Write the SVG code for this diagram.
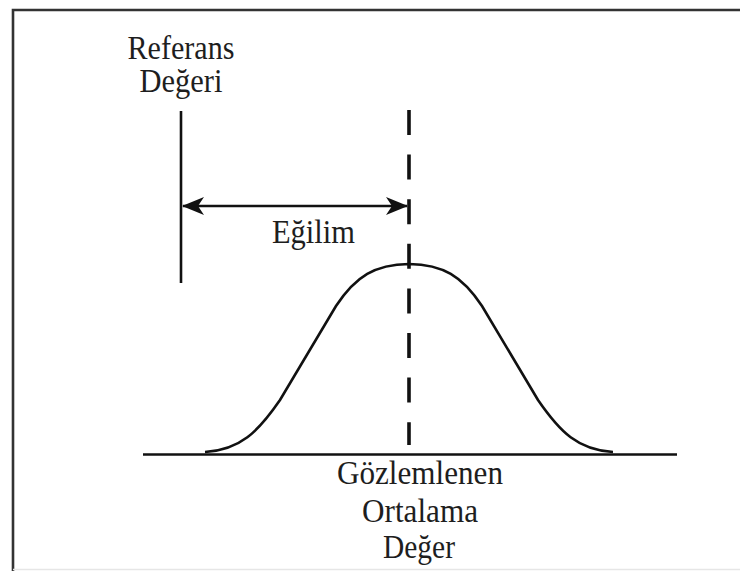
<svg xmlns="http://www.w3.org/2000/svg" width="740" height="571" viewBox="0 0 740 571">
<style>
  .lbl { font-family: "Liberation Serif", "Times New Roman", serif; font-size: 33px; fill: #1e1e1e; text-anchor: middle; }
  .ln { stroke: #111; stroke-width: 2.6; fill: none; }
</style>
<defs>
  <marker id="ah" viewBox="0 0 22 20" refX="21" refY="10" markerWidth="22" markerHeight="20" markerUnits="userSpaceOnUse" orient="auto-start-reverse">
    <path d="M0,1 L22,10 L0,19 L6,10 Z" fill="#111"/>
  </marker>
</defs>
<rect width="740" height="571" fill="#fff"/>
<g id="frame">
  <path d="M13,571 V10 H740" fill="none" stroke="#333" stroke-width="2.6"/>
  <line x1="13" y1="569.5" x2="740" y2="569.5" stroke="#e6e6e6" stroke-width="1.5"/>
</g>
<g id="reference-value">
  <line class="ln" x1="181" y1="111" x2="181" y2="283"/>
  <text class="lbl" x="181" y="59" textLength="107" lengthAdjust="spacingAndGlyphs">Referans</text>
  <text class="lbl" x="181" y="92" textLength="83" lengthAdjust="spacingAndGlyphs">Değeri</text>
</g>
<g id="distribution">
  <line class="ln" x1="143" y1="454.5" x2="677" y2="454.5"/>
  <path class="ln" d="M205,452 C240,450 258,432 280,400 L336,306 C356,276 375,264.5 409,264 C443,264.5 462,276 482,306 L538,400 C560,432 578,450 613,452"/>
</g>
<g id="observed-mean">
  <line x1="409" y1="110" x2="409" y2="445" stroke="#111" stroke-width="3.6" stroke-dasharray="25 19.6"/>
  <text class="lbl" x="420" y="484" textLength="166" lengthAdjust="spacingAndGlyphs">Gözlemlenen</text>
  <text class="lbl" x="420" y="522" textLength="116" lengthAdjust="spacingAndGlyphs">Ortalama</text>
  <text class="lbl" x="419" y="558" textLength="72" lengthAdjust="spacingAndGlyphs">Değer</text>
</g>
<g id="connectors">
  <line class="ln" x1="183" y1="206" x2="407" y2="206" stroke-width="3" marker-start="url(#ah)" marker-end="url(#ah)"/>
  <text class="lbl" x="313.5" y="243" textLength="83" lengthAdjust="spacingAndGlyphs">Eğilim</text>
</g>
</svg>
